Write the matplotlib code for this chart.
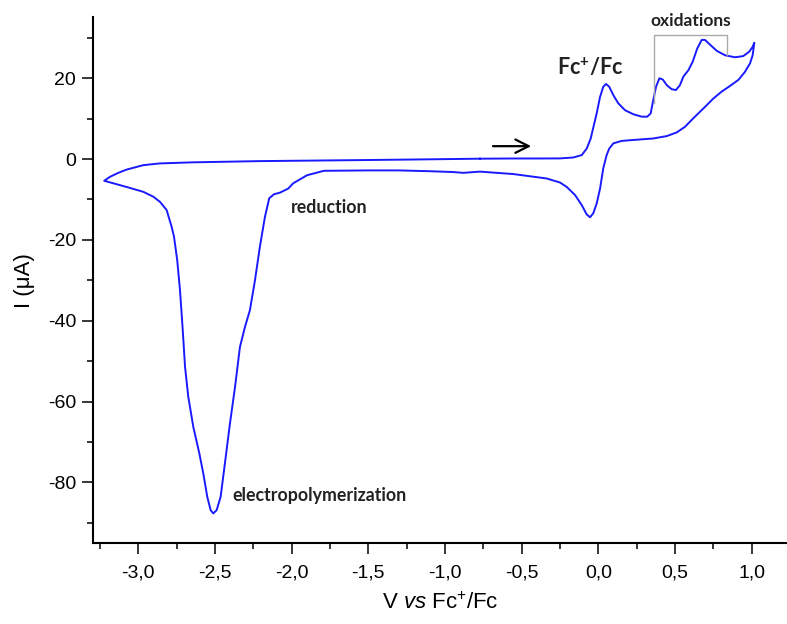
import matplotlib
matplotlib.use("Agg")
import matplotlib.pyplot as plt
from matplotlib.ticker import MultipleLocator, FuncFormatter

# Cyclic voltammogram, closed loop: forward (upper) from -0.77 V to 1.017 V,
# reverse (lower) back to -3.22 V, then forward again to -0.77 V
potential = [
    # forward scan, Fc and oxidation region
    -0.772, -0.555, -0.40, -0.25, -0.163, -0.108, -0.076, -0.05, -0.033, -0.011,
    0.011, 0.032, 0.050, 0.071, 0.098, 0.130, 0.174, 0.228, 0.283, 0.319, 0.341,
    0.358, 0.376, 0.398, 0.42, 0.446, 0.478, 0.506, 0.532, 0.554, 0.587, 0.615,
    0.645, 0.674, 0.695, 0.723, 0.772, 0.826, 0.891, 0.945, 0.984, 1.006, 1.017,
    # reverse scan
    1.006, 0.989, 0.956, 0.913, 0.858, 0.804, 0.75, 0.684, 0.619, 0.565, 0.511,
    0.446, 0.358, 0.25, 0.152, 0.098, 0.071, 0.054, 0.032, 0.011, -0.011, -0.033,
    -0.054, -0.076, -0.108, -0.152, -0.206, -0.25, -0.337, -0.555, -0.772, -0.88,
    -0.95, -1.1, -1.3, -1.5, -1.79, -1.90, -1.99, -2.022, -2.076, -2.115, -2.146,
    -2.174, -2.207, -2.239, -2.272, -2.304, -2.337, -2.369, -2.402, -2.435, -2.463,
    -2.489, -2.511, -2.528, -2.55, -2.576, -2.602, -2.641, -2.674, -2.695, -2.71,
    -2.728, -2.746, -2.767, -2.782, -2.815, -2.858, -2.902, -2.967, -3.076, -3.222,
    # forward scan, back to start
    -3.185, -3.13, -3.076, -2.967, -2.86, -2.641, -2.21, -1.555, -1.2, -0.772,
]
current = [
    0.1, 0.15, 0.15, 0.17, 0.4, 1.0, 2.6, 5.1, 7.8, 11.3,
    15.4, 17.9, 18.6, 17.9, 15.8, 13.8, 12.1, 11.1, 10.5, 10.5, 11.3,
    14.6, 17.9, 20.0, 19.7, 18.3, 17.3, 17.1, 18.3, 20.4, 22.0, 24.1,
    27.4, 29.5, 29.5, 28.5, 26.8, 25.7, 25.2, 25.5, 26.6, 27.8, 28.8,
    25.7, 23.7, 21.6, 19.6, 18.1, 16.7, 15.0, 12.5, 10.1, 8.0, 6.6,
    5.7, 5.1, 4.8, 4.5, 3.9, 2.6, 1.0, -2.3, -7.3, -11.0, -13.4,
    -14.4, -13.7, -11.4, -8.9, -6.9, -5.8, -4.8, -3.7, -3.1, -3.4,
    -3.2, -3.0, -2.8, -2.8, -2.9, -4.0, -6.0, -7.3, -8.3, -8.7, -9.7,
    -14.3, -21.7, -30.0, -37.4, -41.5, -46.5, -56.4, -65.4, -75.3, -83.6,
    -86.9, -87.7, -86.9, -83.6, -77.8, -72.8, -66.3, -58.8, -51.4, -42.3,
    -32.4, -25.0, -19.2, -16.8, -12.6, -10.6, -9.3, -8.1, -6.9, -5.37,
    -4.4, -3.4, -2.6, -1.5, -1.07, -0.8, -0.5, -0.25, -0.1, 0.1,
]

x_major = [-3.0, -2.5, -2.0, -1.5, -1.0, -0.5, 0.0, 0.5, 1.0]
y_major = [-80, -60, -40, -20, 0, 20]

plt.rcParams['font.family'] = ['Liberation Sans', 'DejaVu Sans']
plt.rcParams['mathtext.fontset'] = 'custom'
plt.rcParams['mathtext.rm'] = 'Liberation Sans'
plt.rcParams['mathtext.it'] = 'Liberation Sans:italic'
plt.rcParams['mathtext.bf'] = 'Liberation Sans:bold'

fig = plt.figure(figsize=(7.87, 6.24), dpi=100)
ax = fig.add_axes([0.1178, 0.1293, 0.8822, 0.843])

ax.plot(potential, current, color='#1a1aff', lw=1.4, solid_joinstyle='round')

ax.set_xlim(-3.297, 1.23)
ax.set_ylim(-95.1, 35.1)

for s in ['top', 'right']:
    ax.spines[s].set_visible(False)
for s in ['left', 'bottom']:
    ax.spines[s].set_linewidth(1.5)

ax.set_xticks(x_major)
ax.set_yticks(y_major)
ax.xaxis.set_minor_locator(MultipleLocator(0.25))
ax.yaxis.set_minor_locator(MultipleLocator(10))
ax.tick_params(which='major', direction='out', length=8, width=1.1, labelsize=14)
ax.tick_params(axis='x', which='major', pad=7)
ax.tick_params(axis='y', which='major', pad=4)
ax.tick_params(which='minor', direction='out', length=4, width=1.1)
ax.xaxis.set_major_formatter(FuncFormatter(lambda v, p: f"{v:.1f}".replace('.', ',')))
ax.yaxis.set_major_formatter(FuncFormatter(lambda v, p: f"{v:.0f}"))

ax.set_xlabel(r'V $\mathit{vs}$ Fc$^{+}$/Fc', fontsize=16, labelpad=8)
ax.set_ylabel('I (μA)', fontsize=16, labelpad=9)

ann = dict(family=['Lato', 'DejaVu Sans'], fontweight='bold', color='#222222')
ax.text(-2.389, -83.2, 'electropolymerization', fontsize=12.8, ha='left', va='center', **ann)
ax.text(-2.006, -12.1, 'reduction', fontsize=12.8, ha='left', va='center', **ann)
ax.text(-0.27, 22.5, r'Fc$^{\mathbf{+}}$/Fc', fontsize=15.5, ha='left', va='center', **ann)
ax.text(0.603, 34.3, 'oxidations', fontsize=12.5, ha='center', va='center', **ann)

# bracket over oxidation peaks
ax.plot([0.363, 0.363, 0.841, 0.841], [14.0, 30.7, 30.7, 25.7], color='#aaaaaa', lw=1.0)

# scan direction arrow
ax.annotate('', xy=(-0.42, 3.2), xytext=(-0.705, 3.2),
            arrowprops=dict(arrowstyle='->', color='black', lw=1.6, mutation_scale=24))

fig.savefig('out.png', dpi=100)
